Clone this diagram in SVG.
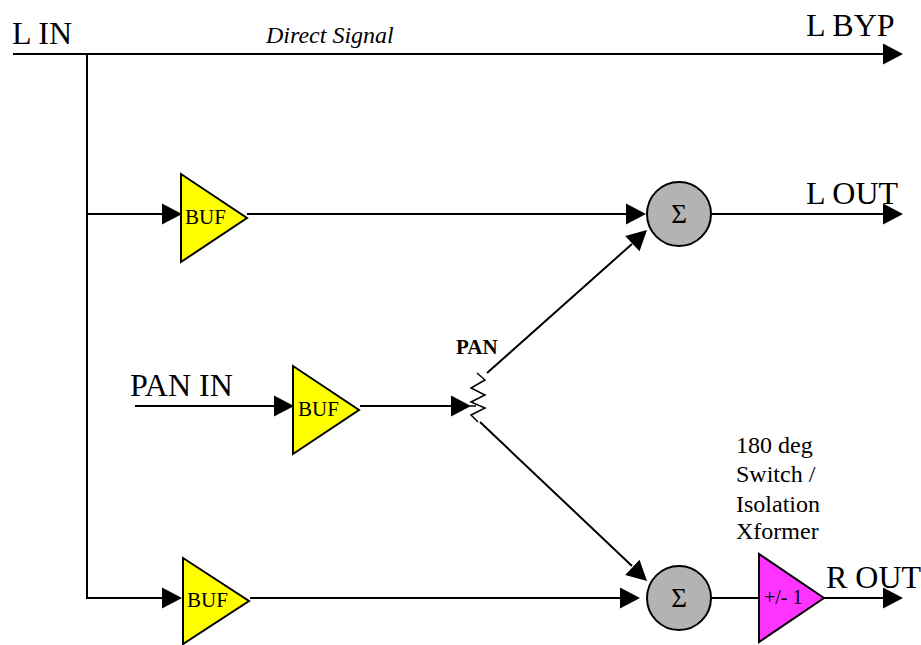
<svg xmlns="http://www.w3.org/2000/svg" width="921" height="645" viewBox="0 0 921 645">
<style>
text{font-family:"Liberation Serif","Times New Roman",serif;fill:#000}
.big{font-size:32px}
.mid{font-size:24px}
.sm{font-size:21px}
.ln{fill:none;stroke:#000;stroke-width:2}
.tri{stroke:#000;stroke-width:2;stroke-linejoin:miter}
.sum{fill:#b3b3b3;stroke:#000;stroke-width:2}
</style>
<defs>
<path id="ah" d="M-20,-10.5 L0,0 L-20,10.5 Z" fill="#000"/>
</defs>
<rect width="921" height="645" fill="#fff"/>
<g id="connectors">
<path class="ln" d="M13,54 H884"/>
<path class="ln" d="M87,54 V598 H164"/>
<path class="ln" d="M87,214 H164"/>
<path class="ln" d="M247,214 H628"/>
<path class="ln" d="M712,214 H884"/>
<path class="ln" d="M135,406 H276"/>
<path class="ln" d="M360,406 H453"/>
<path class="ln" d="M487,373 L632,244"/>
<path class="ln" d="M480,422 L632,566"/>
<path class="ln" d="M250,598 H621"/>
<path class="ln" d="M711,598 H759"/>
<path class="ln" d="M824,598 H884"/>
<path class="ln" style="stroke-width:1.5" d="M470,406 H476 M477,373 L485,380 L471,388 L485,395 L471,402 L485,408 L471,415 L478,422"/>
<use href="#ah" transform="translate(903,54)"/>
<use href="#ah" transform="translate(182,214)"/>
<use href="#ah" transform="translate(646,214)"/>
<use href="#ah" transform="translate(903,214)"/>
<use href="#ah" transform="translate(294,406)"/>
<use href="#ah" transform="translate(471,406)"/>
<use href="#ah" transform="translate(647,230) rotate(-43)"/>
<use href="#ah" transform="translate(647,581) rotate(43)"/>
<use href="#ah" transform="translate(182,598)"/>
<use href="#ah" transform="translate(640,598)"/>
<use href="#ah" transform="translate(903,598)"/>
</g>
<g id="l-in"><text class="big" x="12" y="44">L IN</text></g>
<g id="direct-signal"><text x="266" y="43" font-size="24" font-style="italic">Direct Signal</text></g>
<g id="l-byp"><text class="big" x="806" y="36">L BYP</text></g>
<g id="l-out"><text class="big" x="806" y="204">L OUT</text></g>
<g id="pan-in"><text class="big" x="130" y="396">PAN IN</text></g>
<g id="pan-label"><text x="456" y="354" font-size="21" font-weight="bold">PAN</text></g>
<g id="r-out"><text class="big" x="826" y="588">R OUT</text></g>
<g id="switch-note">
<text class="mid" x="736" y="453">180 deg</text>
<text class="mid" x="736" y="482">Switch /</text>
<text class="mid" x="736" y="512">Isolation</text>
<text class="mid" x="736" y="539">Xformer</text>
</g>
<g id="buf1"><path class="tri" fill="#ffff00" d="M181,174 V262 L247,218 Z"/><text class="sm" x="185" y="224">BUF</text></g>
<g id="buf2"><path class="tri" fill="#ffff00" d="M293,366 V454 L359,410 Z"/><text class="sm" x="298" y="416">BUF</text></g>
<g id="buf3"><path class="tri" fill="#ffff00" d="M183,558 V644 L249,601 Z"/><text class="sm" x="187" y="607">BUF</text></g>
<g id="sum1"><circle class="sum" cx="679" cy="214" r="32"/><text font-size="27" x="679" y="223" text-anchor="middle">Σ</text></g>
<g id="sum2"><circle class="sum" cx="679" cy="598" r="32"/><text font-size="27" x="679" y="607" text-anchor="middle">Σ</text></g>
<g id="inv"><path class="tri" fill="#ff33ff" d="M759,554 V642 L824,598 Z"/><text font-size="20" x="764" y="604">+/- 1</text></g>
</svg>
